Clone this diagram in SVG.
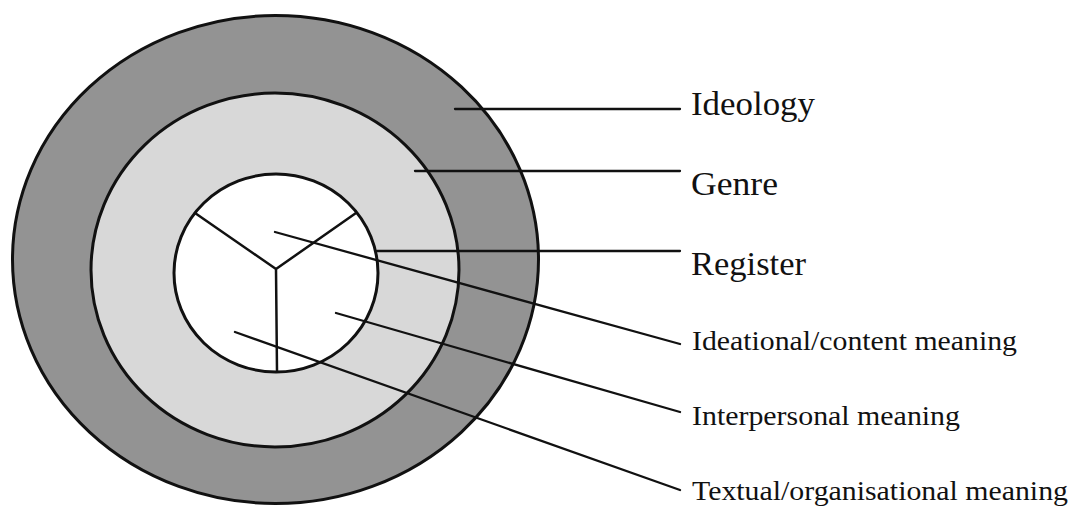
<svg xmlns="http://www.w3.org/2000/svg" width="1076" height="506" viewBox="0 0 1076 506">
  <style>
    .ring { stroke: #111; stroke-width: 3; }
    .div { stroke: #111; stroke-width: 2.5; fill: none; stroke-linecap: round; }
    .lead { stroke: #111; stroke-width: 2.3; fill: none; stroke-linecap: round; }
    .big { font-family: "Liberation Serif", "Times New Roman", serif; font-size: 33px; fill: #111; }
    .small { font-family: "Liberation Serif", "Times New Roman", serif; font-size: 28px; fill: #111; }
  </style>
  <rect width="1076" height="506" fill="#ffffff"/>
  <g id="ideology-ring">
    <ellipse class="ring" cx="275.5" cy="259.5" rx="263" ry="244" fill="#939393"/>
  </g>
  <g id="genre-ring">
    <ellipse class="ring" cx="275" cy="270" rx="184" ry="177" fill="#d8d8d8"/>
  </g>
  <g id="register-circle">
    <ellipse class="ring" cx="276" cy="273" rx="102" ry="99" fill="#ffffff"/>
    <path class="div" d="M195,213 L276,269 L356,213 M276,269 L277,371"/>
  </g>
  <g id="connectors">
    <line class="lead" x1="455" y1="109" x2="680" y2="109"/>
    <line class="lead" x1="415" y1="171" x2="680" y2="171"/>
    <line class="lead" x1="377" y1="251" x2="680" y2="251"/>
    <line class="lead" x1="275" y1="232" x2="680" y2="344"/>
    <line class="lead" x1="336" y1="313" x2="680" y2="412"/>
    <line class="lead" x1="235" y1="332" x2="680" y2="490"/>
  </g>
  <g id="label-ideology"><text class="big" x="691" y="115" textLength="124" lengthAdjust="spacingAndGlyphs">Ideology</text></g>
  <g id="label-genre"><text class="big" x="691" y="195" textLength="87" lengthAdjust="spacingAndGlyphs">Genre</text></g>
  <g id="label-register"><text class="big" x="691" y="275" textLength="115" lengthAdjust="spacingAndGlyphs">Register</text></g>
  <g id="label-ideational"><text class="small" x="692" y="350" textLength="325" lengthAdjust="spacingAndGlyphs">Ideational/content meaning</text></g>
  <g id="label-interpersonal"><text class="small" x="692" y="425" textLength="268" lengthAdjust="spacingAndGlyphs">Interpersonal meaning</text></g>
  <g id="label-textual"><text class="small" x="692" y="500" textLength="376" lengthAdjust="spacingAndGlyphs">Textual/organisational meaning</text></g>
</svg>
